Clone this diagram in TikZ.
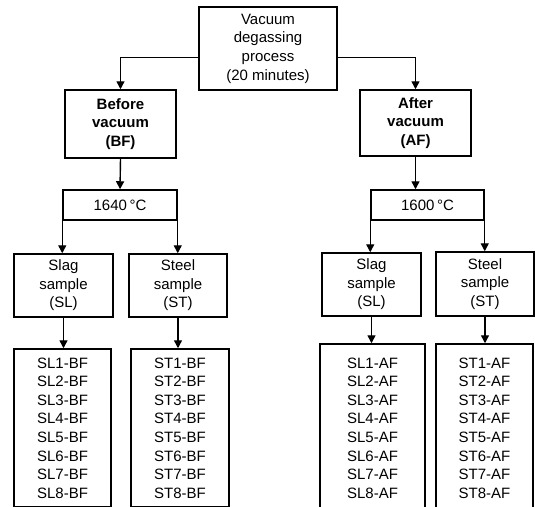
\documentclass[tikz,border=0pt]{standalone}
\usepackage{fontspec}
\setmainfont{Liberation Sans}
\usetikzlibrary{arrows.meta}

\begin{document}
\begin{tikzpicture}[
    x=1pt, y=-1pt,
    font=\fontsize{15}{18.6}\selectfont,
    box/.style={
        rectangle,
        draw=black,
        line width=1.5pt,
        align=center,
        inner sep=0pt
    },
    headbox/.style={box, font=\fontsize{15}{18.6}\selectfont\bfseries},
    arr/.style={-{Triangle[length=8pt, width=8pt]}, line width=1.4pt}
]

\useasboundingbox (0, 0) rectangle (535, 506);
\clip (0, 0) rectangle (535, 506);

\node[box, minimum width=138pt, minimum height=83pt] (vacuum) at (268, 48.5)
    {Vacuum\\degassing\\process\\(20 minutes)};

\node[headbox, minimum width=111pt, minimum height=68pt] (before) at (120.5, 124) {Before\\vacuum\\(BF)};
\node[headbox, minimum width=111pt, minimum height=66pt] (after)  at (415.5, 123) {After\\vacuum\\(AF)};

\node[box, minimum width=114pt, minimum height=30pt] (temp1640) at (120, 205)   {1640\,°C};
\node[box, minimum width=113pt, minimum height=30pt] (temp1600) at (427.5, 205) {1600\,°C};

\node[box, minimum width=99pt, minimum height=63pt] (slagbf)  at (63.5, 285.5)  {Slag\\sample\\(SL)};
\node[box, minimum width=98pt, minimum height=63pt] (steelbf) at (178, 285.5)   {Steel\\sample\\(ST)};
\node[box, minimum width=99pt, minimum height=63pt] (slagaf)  at (371.5, 284.5) {Slag\\sample\\(SL)};
\node[box, minimum width=98pt, minimum height=64pt] (steelaf) at (485, 284)     {Steel\\sample\\(ST)};

\node[box, minimum width=97pt, minimum height=158pt]  (listslbf) at (62.5, 428)
    {SL1-BF\\SL2-BF\\SL3-BF\\SL4-BF\\SL5-BF\\SL6-BF\\SL7-BF\\SL8-BF};
\node[box, minimum width=98pt, minimum height=158pt]  (liststbf) at (180, 428)
    {ST1-BF\\ST2-BF\\ST3-BF\\ST4-BF\\ST5-BF\\ST6-BF\\ST7-BF\\ST8-BF};
\node[box, minimum width=105pt, minimum height=168pt] (listslaf) at (372.5, 428)
    {SL1-AF\\SL2-AF\\SL3-AF\\SL4-AF\\SL5-AF\\SL6-AF\\SL7-AF\\SL8-AF};
\node[box, minimum width=97pt, minimum height=168pt]  (liststaf) at (484.5, 428)
    {ST1-AF\\ST2-AF\\ST3-AF\\ST4-AF\\ST5-AF\\ST6-AF\\ST7-AF\\ST8-AF};

\draw[arr] ([yshift=-9pt]vacuum.west) -| (before.north);
\draw[arr] ([yshift=-9pt]vacuum.east) -| (after.north);

\draw[arr] (before.south) -- (temp1640.north);
\draw[arr] (after.south) -- (after.south |- temp1600.north);

\draw[arr] (temp1640.south west) -- (temp1640.south west |- slagbf.north);
\draw[arr] (temp1640.south east) -- (temp1640.south east |- steelbf.north);
\draw[arr] (temp1600.south west) -- (temp1600.south west |- slagaf.north);
\draw[arr] (temp1600.south east) -- (temp1600.south east |- steelaf.north);

\draw[arr] (slagbf.south) -- (slagbf.south |- listslbf.north);
\draw[arr] (steelbf.south) -- (steelbf.south |- liststbf.north);
\draw[arr] (slagaf.south) -- (slagaf.south |- listslaf.north);
\draw[arr] (steelaf.south) -- (steelaf.south |- liststaf.north);

\end{tikzpicture}
\end{document}
